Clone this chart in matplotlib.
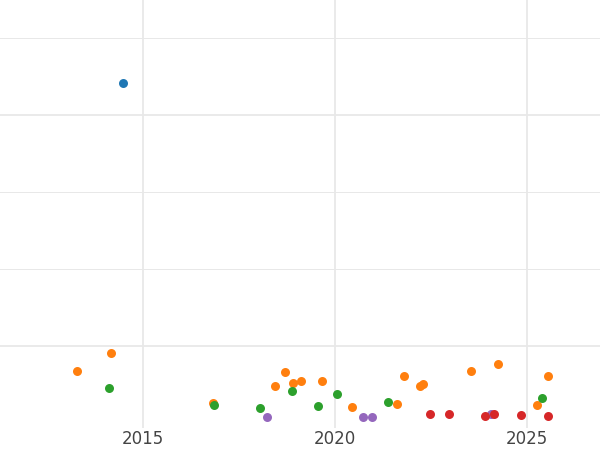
import matplotlib
matplotlib.use("Agg")
from matplotlib import pyplot as plt

# values
blue_x = [2014.48]
blue_y = [4.42]
orange_x = [2013.29, 2014.17, 2016.83, 2018.44, 2018.70, 2018.91, 2019.12, 2019.67, 2020.45,
            2021.62, 2021.80, 2022.22, 2022.30, 2023.55, 2024.25, 2025.26, 2025.55]
orange_y = [0.68, 0.91, 0.26, 0.48, 0.66, 0.52, 0.55, 0.54, 0.21,
            0.25, 0.61, 0.48, 0.50, 0.68, 0.76, 0.23, 0.61]
green_x = [2014.12, 2016.85, 2018.05, 2018.88, 2019.56, 2020.06, 2021.38, 2025.39]
green_y = [0.45, 0.23, 0.19, 0.41, 0.22, 0.37, 0.27, 0.32]
red_x = [2022.48, 2022.97, 2023.91, 2024.14, 2024.85, 2025.55]
red_y = [0.12, 0.12, 0.09, 0.12, 0.10, 0.09]
purple_x = [2018.23, 2020.73, 2020.97, 2024.07]
purple_y = [0.08, 0.08, 0.08, 0.12]
xticks = [2015, 2020, 2025]

fig = plt.figure(figsize=(6, 4.5), dpi=100)
ax = fig.add_axes([0, 0.05, 1, 0.95])

for xs, ys, c in [(orange_x, orange_y, '#ff7f0e'), (green_x, green_y, '#2ca02c'),
                  (purple_x, purple_y, '#9467bd'), (red_x, red_y, '#d62728'),
                  (blue_x, blue_y, '#1f77b4')]:
    ax.scatter(xs, ys, s=42, color=c, zorder=3, linewidths=0)

ax.set_xlim(2011.28, 2026.9)
ax.set_ylim(-0.06, 5.5)
ax.set_xticks(xticks)
ax.set_xticklabels([str(t) for t in xticks])
ax.set_yticks([1, 2, 3, 4, 5])
ax.set_yticklabels([])
for y in [1, 2, 3, 4, 5]:
    lw = 1.3 if y in (1, 4) else 0.7
    ax.axhline(y, color='#e8e8e8', lw=lw, zorder=0)
for x in xticks:
    ax.axvline(x, color='#e8e8e8', lw=1.3, zorder=0)
ax.tick_params(length=0, labelsize=12, labelcolor='#444444', pad=2)
for s in ax.spines.values():
    s.set_visible(False)

fig.savefig('out.png')
